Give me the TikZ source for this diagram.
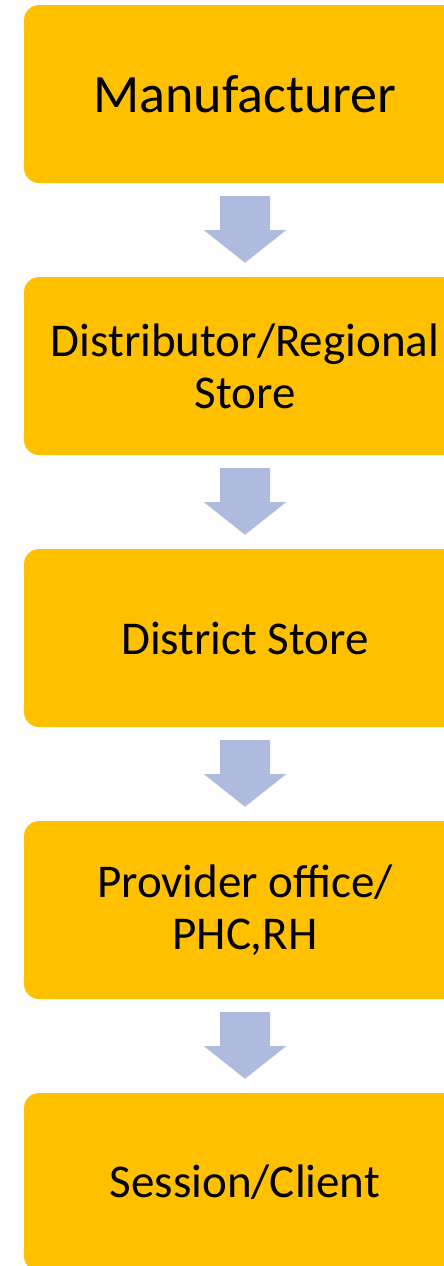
\documentclass[tikz,border=0pt]{standalone}
\usepackage{fontspec}
\setmainfont{Carlito}
\usetikzlibrary{calc}
\definecolor{boxc}{HTML}{FFC000}
\definecolor{arrc}{HTML}{AEBBDE}
\tikzset{
  stage/.style={fill=boxc, draw=none, rounded corners=15pt, minimum width=442pt, minimum height=178pt, inner sep=0pt, align=center, text=black, font=\fontsize{47}{52}\selectfont},
  flowarrow/.style={fill=arrc, draw=none}
}
\begin{document}
\begin{tikzpicture}[x=1pt,y=-1pt]
\useasboundingbox (0,0) rectangle (444,1266);
\clip (0,0) rectangle (444,1266);
\node[stage, font=\fontsize{54}{60}\selectfont] (b1) at (245,94) {Manufacturer};
\node[stage] (b2) at (245,366) {Distributor/Regional\\Store};
\node[stage] (b3) at (245,638) {District Store};
\node[stage] (b4) at (245,910) {Provider office/\\PHC,RH};
\node[stage] (b5) at (245,1182) {Session/Client};
\foreach \a/\b in {b1/b2,b2/b3,b3/b4,b4/b5}{
  \coordinate (t\a) at ($(\a.south)+(0,13)$);
  \coordinate (h\a) at ($(\b.north)+(0,-14)$);
  \fill[flowarrow] ($(t\a)+(-25,0)$) -- ($(t\a)+(25,0)$) -- ($(t\a)+(25,34)$) -- ($(t\a)+(41,34)$) -- (h\a) -- ($(t\a)+(-41,34)$) -- ($(t\a)+(-25,34)$) -- cycle;
}
\end{tikzpicture}
\end{document}
